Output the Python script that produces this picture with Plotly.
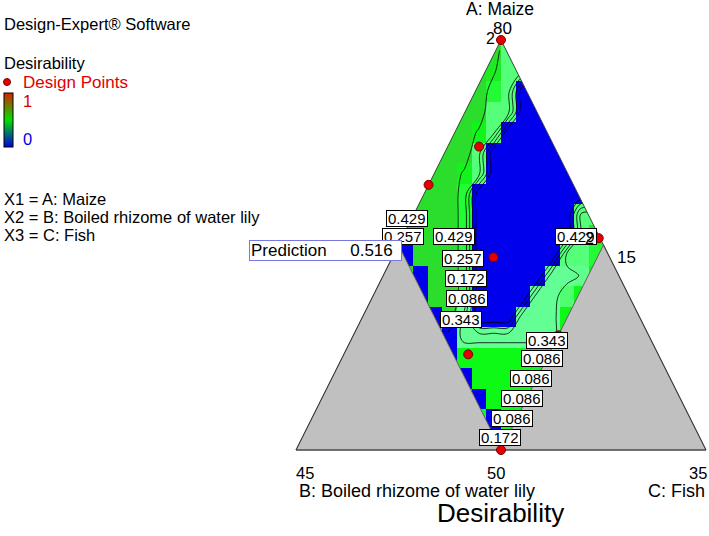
import plotly.graph_objects as go

W, H = 709, 536
FONT = "Liberation Sans, Arial, sans-serif"

# ---------------- data ----------------
# Mixture components (%): A = Maize, B = Boiled rhizome of water lily, C = Fish
simplex_A = [80, 50, 50]          # display simplex vertices (A, B, C vertex)
simplex_B = [15, 45, 15]
simplex_C = [5, 5, 35]

region_A = [80, 65, 50, 65]       # constrained (feasible) region vertices
region_B = [15, 30, 30, 15]
region_C = [5, 5, 20, 20]

# design points
pts_A = [80, 72.2, 69.4, 64.1, 65.5, 58.4, 57.0, 50]
pts_B = [15, 20.5, 25.6, 23.5, 15.1, 21.6, 28.9, 30]
pts_C = [5, 7.3, 5.0, 12.4, 19.4, 20.0, 14.1, 20]

# Desirability: rows top (A high) -> bottom, columns left -> right
desir = [
    [0.47, 0.47, 0.47, 0.47, 0.47, 0.47, 0.47, 0.37, 0.37, 0.37, 0.37, 0.37, 0.37, 0.37],
    [0.47, 0.47, 0.47, 0.47, 0.47, 0.47, 0.44, 0.37, 0.37, 0.37, 0.37, 0.37, 0.37, 0.37],
    [0.47, 0.47, 0.47, 0.47, 0.47, 0.47, 0.40, 0.37, 0.00, 0.00, 0.00, 0.00, 0.00, 0.00],
    [0.47, 0.47, 0.47, 0.47, 0.47, 0.47, 0.37, 0.37, 0.00, 0.00, 0.00, 0.00, 0.00, 0.00],
    [0.47, 0.47, 0.47, 0.47, 0.47, 0.42, 0.37, 0.00, 0.00, 0.00, 0.00, 0.00, 0.00, 0.00],
    [0.47, 0.47, 0.47, 0.47, 0.47, 0.37, 0.00, 0.00, 0.00, 0.00, 0.00, 0.00, 0.00, 0.00],
    [0.47, 0.47, 0.47, 0.47, 0.42, 0.37, 0.00, 0.00, 0.00, 0.00, 0.00, 0.00, 0.00, 0.00],
    [0.47, 0.47, 0.47, 0.47, 0.40, 0.00, 0.00, 0.00, 0.00, 0.00, 0.00, 0.00, 0.00, 0.00],
    [0.47, 0.47, 0.47, 0.47, 0.40, 0.00, 0.00, 0.00, 0.00, 0.00, 0.00, 0.00, 0.37, 0.37],
    [0.47, 0.47, 0.47, 0.47, 0.40, 0.00, 0.00, 0.00, 0.00, 0.00, 0.00, 0.00, 0.37, 0.44],
    [0.47, 0.47, 0.47, 0.47, 0.40, 0.00, 0.00, 0.00, 0.00, 0.00, 0.00, 0.37, 0.37, 0.40],
    [0.47, 0.47, 0.47, 0.47, 0.40, 0.00, 0.00, 0.00, 0.00, 0.00, 0.32, 0.32, 0.35, 0.41],
    [0.47, 0.47, 0.47, 0.47, 0.40, 0.00, 0.00, 0.00, 0.00, 0.32, 0.32, 0.38, 0.41, 0.41],
    [0.47, 0.47, 0.47, 0.47, 0.32, 0.00, 0.00, 0.00, 0.32, 0.32, 0.32, 0.41, 0.41, 0.41],
    [0.41, 0.41, 0.41, 0.41, 0.32, 0.32, 0.32, 0.32, 0.32, 0.32, 0.32, 0.41, 0.41, 0.41],
    [0.41, 0.41, 0.41, 0.41, 0.41, 0.41, 0.41, 0.41, 0.41, 0.41, 0.41, 0.41, 0.41, 0.41],
    [0.41, 0.41, 0.41, 0.41, 0.41, 0.41, 0.41, 0.41, 0.41, 0.41, 0.41, 0.41, 0.41, 0.41],
    [0.41, 0.41, 0.41, 0.41, 0.41, 0.41, 0.41, 0.41, 0.41, 0.41, 0.41, 0.41, 0.41, 0.41],
    [0.41, 0.41, 0.41, 0.41, 0.41, 0.41, 0.41, 0.41, 0.41, 0.41, 0.41, 0.41, 0.41, 0.41],
    [0.41, 0.41, 0.41, 0.41, 0.41, 0.41, 0.41, 0.41, 0.41, 0.41, 0.41, 0.41, 0.41, 0.41],
]
# zero-desirability cells along the B = 30 boundary (row, column)
edge_zero_cells = [(10, 0), (11, 1), (12, 1), (13, 2), (14, 3), (15, 3),
                   (16, 4), (17, 5), (18, 6), (19, 6)]

contour_levels = [0.086, 0.172, 0.257, 0.343, 0.429]
prediction = 0.516

# ---------------- helpers ----------------
def to_xy(A, B, C):
    """mixture -> plot coordinates (x = C - B, y = A)"""
    return [c - b for b, c in zip(B, C)], list(A)

def P(px, py):
    return px / W, 1 - py / H

sx, sy = to_xy(simplex_A, simplex_B, simplex_C)
rx, ry = to_xy(region_A, region_B, region_C)
apex = (sx[0], sy[0]); vB = (sx[1], sy[1]); vC = (sx[2], sy[2])
rl = (rx[1], ry[1]); rb = (rx[2], ry[2]); rr = (rx[3], ry[3])

nrow, ncol = len(desir), len(desir[0])
x0, x1 = rl[0], rr[0]
y0, y1 = apex[1], rb[1]
xc = [x0 + (j + 0.5) * (x1 - x0) / ncol for j in range(ncol)]
yc = [y0 + (i + 0.5) * (y1 - y0) / nrow for i in range(nrow)]

fill_z = [row[:] for row in desir]
for i, j in edge_zero_cells:
    fill_z[i][j] = 0.0

cscale = [
    [0.00, "rgb(0,0,236)"],
    [0.20, "rgb(0,80,222)"],
    [0.50, "rgb(30,200,180)"],
    [0.62, "rgb(100,255,150)"],
    [0.70, "rgb(96,255,140)"],
    [0.76, "rgb(80,255,112)"],
    [0.82, "rgb(12,250,22)"],
    [0.88, "rgb(30,236,34)"],
    [0.94, "rgb(44,222,44)"],
    [1.00, "rgb(50,215,45)"],
]

fig = go.Figure()

fig.add_trace(go.Heatmap(x=xc, y=yc, z=fill_z, zmin=0, zmax=0.5, colorscale=cscale,
                         zsmooth=False, showscale=False, hoverinfo="skip"))
step = contour_levels[1] - contour_levels[0]
fig.add_trace(go.Contour(x=xc, y=yc, z=desir, showscale=False, hoverinfo="skip",
                         contours=dict(start=contour_levels[0], end=contour_levels[-1] + 0.001,
                                       size=step, coloring="none"),
                         line=dict(color="black", width=0.8, smoothing=1)))

# white masks outside the simplex (upper part)
top = apex[1] + 1.5
fig.add_trace(go.Scatter(x=[rl[0], apex[0], apex[0], rl[0] - 2, rl[0] - 2],
                         y=[rl[1], apex[1], top, top, rl[1]], fill="toself",
                         fillcolor="white", line=dict(width=0), mode="lines", hoverinfo="skip"))
fig.add_trace(go.Scatter(x=[rr[0], apex[0], apex[0], rr[0] + 2, rr[0] + 2],
                         y=[rr[1], apex[1], top, top, rr[1]], fill="toself",
                         fillcolor="white", line=dict(width=0), mode="lines", hoverinfo="skip"))
# grey infeasible triangles
for tri in ([vB, rl, rb, vB], [rb, rr, vC, rb]):
    fig.add_trace(go.Scatter(x=[p[0] for p in tri], y=[p[1] for p in tri], fill="toself",
                             fillcolor="rgb(192,192,192)", mode="lines",
                             line=dict(color="rgb(95,95,95)", width=1), hoverinfo="skip"))
# simplex outline
fig.add_trace(go.Scatter(x=sx + [sx[0]], y=sy + [sy[0]], mode="lines",
                         line=dict(color="rgb(60,60,60)", width=1), hoverinfo="skip"))
# design points
px_, py_ = to_xy(pts_A, pts_B, pts_C)
fig.add_trace(go.Scatter(x=px_, y=py_, mode="markers",
                         marker=dict(size=9, color="rgb(228,0,0)",
                                     line=dict(color="rgb(120,0,0)", width=1))))
# legend colour bar
fig.add_trace(go.Scatter(x=[None, None], y=[None, None], mode="markers",
                         marker=dict(size=1, color=[0, 1], cmin=0, cmax=1,
                                     colorscale=[[0, "rgb(0,0,225)"], [0.5, "rgb(0,225,0)"],
                                                 [1, "rgb(215,35,0)"]],
                                     showscale=True,
                                     colorbar=dict(x=4 / W, xanchor="left", y=1 - 120 / H,
                                                   yanchor="middle", len=54, lenmode="pixels",
                                                   thickness=9, thicknessmode="pixels",
                                                   xpad=0, ypad=0, outlinewidth=1,
                                                   outlinecolor="black", ticks="",
                                                   showticklabels=False))))

ann = []
def A_(text, px, py, size=16.5, color="black", xanchor="center", **kw):
    x, y = P(px, py)
    ann.append(dict(text=text, x=x, y=y, xref="paper", yref="paper", showarrow=False,
                    xanchor=xanchor, yanchor="middle",
                    font=dict(family=FONT, size=size, color=color), **kw))

A_("Design-Expert® Software", 2, 24, xanchor="left")
A_("Desirability", 2, 63, xanchor="left")
A_("Design Points", 21, 82, size=17, color="rgb(225,0,0)", xanchor="left")
A_("1", 21, 101, color="rgb(215,0,0)", xanchor="left")
A_("0", 21, 139, color="rgb(0,0,225)", xanchor="left")
A_("X1 = A: Maize", 2, 199, xanchor="left")
A_("X2 = B: Boiled rhizome of water lily", 2, 217, xanchor="left")
A_("X3 = C: Fish", 2, 235, xanchor="left")

A_("A: Maize", 500, 9, size=17.5, height=13)
A_("80", 502, 27.5, size=17, height=12)
A_("2", 490, 39, size=16)
A_("15", 626, 257, size=17)
A_("45", 305, 473, size=16.5)
A_("50", 496, 473, size=16.5)
A_("35", 698, 473, size=16.5)
A_("B: Boiled rhizome of water lily", 297, 491, size=18, xanchor="left")
A_("C: Fish", 707, 491, size=18, xanchor="right")
A_("Desirability", 500, 513, size=26)

lab = lambda v: f"{v:.3f}"
box = dict(bgcolor="white", bordercolor="black", borderwidth=1, borderpad=1, size=15,
           height=13)
label_spots = [
    (contour_levels[4], 407, 218), (contour_levels[2], 403, 236),
    (contour_levels[4], 454, 236), (contour_levels[2], 463, 258),
    (contour_levels[1], 466, 278), (contour_levels[0], 467, 298),
    (contour_levels[3], 461, 319), (contour_levels[4], 576, 236),
    (contour_levels[3], 547, 340), (contour_levels[0], 542, 358),
    (contour_levels[0], 531, 378), (contour_levels[0], 522, 398),
    (contour_levels[0], 512, 418), (contour_levels[1], 500, 437),
]
for v, lx, ly in label_spots:
    A_(lab(v), lx, ly, **box)
A_("2", 589, 238, size=16)
A_("Prediction" + "\u00a0" * 5 + f"{prediction:.3f}", 325.5, 250.5, size=17,
   bgcolor="white", bordercolor="rgb(120,120,225)", borderwidth=1, borderpad=1,
   width=149, height=17, align="left")

x0p, y0p = P(3.5, 78.5)
x1p, y1p = P(10.5, 85.5)
shapes = [dict(type="circle", xref="paper", yref="paper", x0=x0p, x1=x1p, y0=y1p, y1=y0p,
               fillcolor="rgb(228,0,0)", line=dict(color="rgb(120,0,0)", width=1))]

fig.update_layout(
    width=W, height=H, margin=dict(l=0, r=0, t=0, b=0),
    paper_bgcolor="white", plot_bgcolor="white", showlegend=False,
    xaxis=dict(range=[-83.317, 20.439], visible=False, fixedrange=True),
    yaxis=dict(range=[43.707, 82.927], visible=False, fixedrange=True),
    annotations=ann, shapes=shapes,
)
fig.write_html("out.html")
